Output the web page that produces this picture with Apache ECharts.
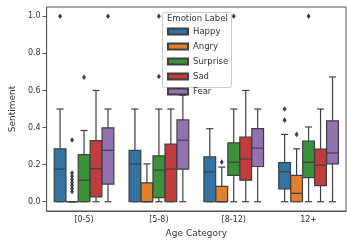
<!DOCTYPE html>
<html>
<head>
<meta charset="utf-8">
<script src="https://cdn.jsdelivr.net/npm/echarts@6/dist/echarts.min.js"></script>
<style>
  html, body { margin: 0; padding: 0; background: #fff; }
  #main { width: 347px; height: 243px; }
</style>
</head>
<body>
<div id="main"></div>
<script>
// categories and hue levels
var categories = ['[0-5)', '[5-8)', '[8-12)', '12+'];
var hues = ['Happy', 'Angry', 'Surprise', 'Sad', 'Fear'];
var hueColors = ['#3274a1', '#e1812c', '#3a923a', '#c03d3e', '#9372b2'];
var yTicks = [0, 0.2, 0.4, 0.6, 0.8, 1.0];

// box stats per category: [min, q1, median, q3, max]
var happyBox    = [[0, 0, 0.176, 0.285, 0.50], [0, 0, 0.204, 0.277, 0.50], [0, 0, 0.161, 0.242, 0.394], [0, 0.069, 0.162, 0.211, 0.363]];
var angryBox    = [[0, 0, 0, 0, 0], [0, 0, 0, 0.102, 0.204], [0, 0, 0, 0.083, 0.187], [0, 0, 0.045, 0.142, 0.285]];
var surpriseBox = [[0, 0, 0.116, 0.254, 0.384], [0, 0.022, 0.170, 0.247, 0.50], [0, 0.142, 0.213, 0.317, 0.50], [0, 0.130, 0.213, 0.327, 0.403]];
var sadBox      = [[0, 0.026, 0.178, 0.329, 0.60], [0, 0, 0.176, 0.311, 0.50], [0, 0.116, 0.230, 0.349, 0.60], [0, 0.087, 0.197, 0.284, 0.50]];
var fearBox     = [[0, 0.095, 0.277, 0.398, 0.50], [0, 0.176, 0.332, 0.441, 0.574], [0, 0.190, 0.289, 0.394, 0.50], [0, 0.204, 0.263, 0.436, 0.673]];

// outliers: [category index, value]
var happyOut    = [[0, 1.0], [3, 0.50], [3, 0.44]];
var angryOut    = [[0, 0.333], [0, 0.155], [0, 0.137], [0, 0.12], [0, 0.104], [0, 0.088], [0, 0.071], [0, 0.055], [2, 0.214], [3, 0.363]];
var surpriseOut = [[0, 0.671], [1, 1.0], [1, 0.675], [2, 1.0], [3, 1.0]];
var sadOut      = [];
var fearOut     = [[0, 1.0]];

var boxList = [happyBox, angryBox, surpriseBox, sadBox, fearBox];
var outList = [happyOut, angryOut, surpriseOut, sadOut, fearOut];

var lineColor = '#3f3f3f';
var myChart = echarts.init(document.getElementById('main'));

//画箱体
function makeBoxRender(h) {
  return function (params, api) {
    var cat = api.value(0);
    var bw = api.size([1, 0])[0];
    var step = bw * 0.8 / hues.length;
    var cx = api.coord([cat, 0])[0] + (h - (hues.length - 1) / 2) * step;
    var w = step * 0.98;
    var capW = w * 0.6;
    var yMin = api.coord([cat, api.value(1)])[1];
    var yQ1 = api.coord([cat, api.value(2)])[1];
    var yMed = api.coord([cat, api.value(3)])[1];
    var yQ3 = api.coord([cat, api.value(4)])[1];
    var yMax = api.coord([cat, api.value(5)])[1];
    var ls = { stroke: lineColor, lineWidth: 1.2 };
    return {
      type: 'group',
      children: [
        { type: 'line', shape: { x1: cx, y1: yQ1, x2: cx, y2: yMin }, style: ls },
        { type: 'line', shape: { x1: cx, y1: yQ3, x2: cx, y2: yMax }, style: ls },
        { type: 'line', shape: { x1: cx - capW / 2, y1: yMin, x2: cx + capW / 2, y2: yMin }, style: ls },
        { type: 'line', shape: { x1: cx - capW / 2, y1: yMax, x2: cx + capW / 2, y2: yMax }, style: ls },
        { type: 'rect', shape: { x: cx - w / 2, y: yQ3, width: w, height: yQ1 - yQ3 },
          style: { fill: hueColors[h], stroke: lineColor, lineWidth: 1.2 } },
        { type: 'line', shape: { x1: cx - w / 2, y1: yMed, x2: cx + w / 2, y2: yMed }, style: ls }
      ]
    };
  };
}

//画离群点（菱形）
function makeOutRender(h) {
  return function (params, api) {
    var cat = api.value(0);
    var bw = api.size([1, 0])[0];
    var step = bw * 0.8 / hues.length;
    var p = api.coord([cat, api.value(1)]);
    var cx = p[0] + (h - (hues.length - 1) / 2) * step;
    var cy = p[1];
    var rx = 2, ry = 2.8;
    return {
      type: 'polygon',
      shape: { points: [[cx, cy - ry], [cx + rx, cy], [cx, cy + ry], [cx - rx, cy]] },
      style: { fill: lineColor }
    };
  };
}

var series = [];
for (var h = 0; h < hues.length; h++) {
  var data = [];
  for (var i = 0; i < categories.length; i++) {
    data.push([i].concat(boxList[h][i]));
  }
  series.push({
    name: hues[h],
    type: 'custom',
    renderItem: makeBoxRender(h),
    itemStyle: { color: hueColors[h], borderColor: lineColor, borderWidth: 0.8 },
    encode: { x: 0, y: [1, 2, 3, 4, 5] },
    data: data,
    z: 2
  });
  series.push({
    name: hues[h] + ' outliers',
    type: 'custom',
    renderItem: makeOutRender(h),
    encode: { x: 0, y: 1 },
    data: outList[h],
    z: 3
  });
}

var option = {
  animation: false,
  grid: {
    left: 42, right: 1, top: 7, bottom: 24,
    show: true, borderColor: '#555', borderWidth: 1, backgroundColor: 'transparent'
  },
  xAxis: {
    type: 'category',
    data: categories,
    name: 'Age Category',
    nameLocation: 'middle',
    nameGap: 18,
    nameTextStyle: { fontFamily: 'DejaVu Sans', fontSize: 9, color: '#333' },
    axisLine: { onZero: false, lineStyle: { color: '#555', width: 1 } },
    axisTick: { alignWithLabel: true, length: 3, lineStyle: { color: '#555' } },
    axisLabel: { fontFamily: 'DejaVu Sans', fontSize: 8, color: '#333', margin: 5 },
    splitLine: { show: false }
  },
  yAxis: {
    type: 'value',
    min: -0.05,
    max: 1.05,
    name: 'Sentiment',
    nameLocation: 'middle',
    nameGap: 27,
    nameTextStyle: { fontFamily: 'DejaVu Sans', fontSize: 9, color: '#333' },
    axisLine: { show: true, lineStyle: { color: '#555', width: 1 } },
    axisTick: { show: true, length: 4, customValues: yTicks, lineStyle: { color: '#555' } },
    axisLabel: {
      fontFamily: 'DejaVu Sans', fontSize: 8, color: '#333', margin: 6,
      customValues: yTicks,
      formatter: function (v) { return v.toFixed(1); }
    },
    splitLine: { show: false }
  },
  legend: {
    data: hues,
    orient: 'vertical',
    left: 167,
    top: 27,
    padding: 0,
    itemWidth: 20,
    itemHeight: 6,
    itemGap: 6,
    icon: 'rect',
    textStyle: { fontFamily: 'DejaVu Sans', fontSize: 8.5, color: '#333', padding: [0, 0, 0, 0] },
    z: 5
  },
  graphic: [
    { type: 'rect', left: 162, top: 12, z: 4,
      shape: { width: 69, height: 75, r: 2 },
      style: { fill: 'rgba(255,255,255,0.85)', stroke: '#ccc', lineWidth: 1 } },
    { type: 'text', left: 167, top: 14, z: 6,
      style: { text: 'Emotion Label', font: '8.5px "DejaVu Sans"', fill: '#333' } }
  ],
  series: series
};

myChart.setOption(option);
</script>
</body>
</html>
